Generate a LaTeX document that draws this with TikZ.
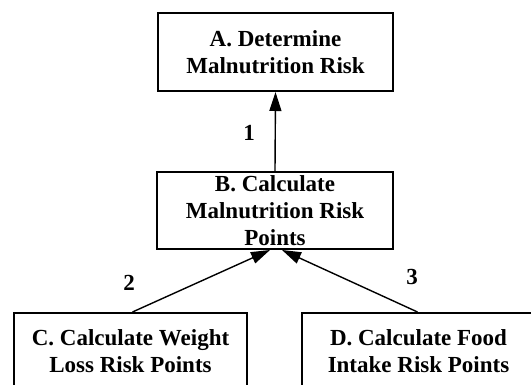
\documentclass[tikz,border=0pt]{standalone}
\usepackage{fontspec}
\setmainfont{Liberation Serif}
\usetikzlibrary{arrows.meta,calc}
\begin{document}
\begin{tikzpicture}[x=1pt,y=-1pt,
  box/.style={draw=black,line width=2pt,rectangle,align=center,
    font=\fontsize{23}{27}\selectfont\bfseries,inner sep=0pt},
  lbl/.style={font=\fontsize{23}{27}\selectfont\bfseries,inner sep=0pt},
  link/.style={line width=1.4pt,-{Triangle[length=19pt,width=12pt]}}]
\useasboundingbox (0,0) rectangle (531,385);
\clip (0,0) rectangle (531,385);
\node[box,minimum width=235pt,minimum height=78pt] (A) at (275.5,52) {A. Determine\\Malnutrition Risk};
\node[box,minimum width=236pt,minimum height=77pt] (B) at (275,210.5) {B. Calculate\\Malnutrition Risk\\Points};
\node[box,minimum width=233pt,minimum height=76pt] (C) at (130.5,351) {C. Calculate Weight\\Loss Risk Points};
\node[box,minimum width=233pt,minimum height=76pt] (D) at (418.5,351) {D. Calculate Food\\Intake Risk Points};
\coordinate (Bl) at ($(B.south)+(-5,0)$);
\coordinate (Br) at ($(B.south)+(7,0)$);
\coordinate (Ct) at ($(C.north)+(2,0)$);
\coordinate (Dt) at ($(D.north)+(-1,0)$);
\draw[link] (B.north) -- (A.south);
\draw[link] (Ct) -- (Bl);
\draw[link] (Dt) -- (Br);
\node[lbl] (l1) at (249,133) {1};
\node[lbl] (l2) at (129,283) {2};
\node[lbl] (l3) at (412,277) {3};
\end{tikzpicture}
\end{document}
